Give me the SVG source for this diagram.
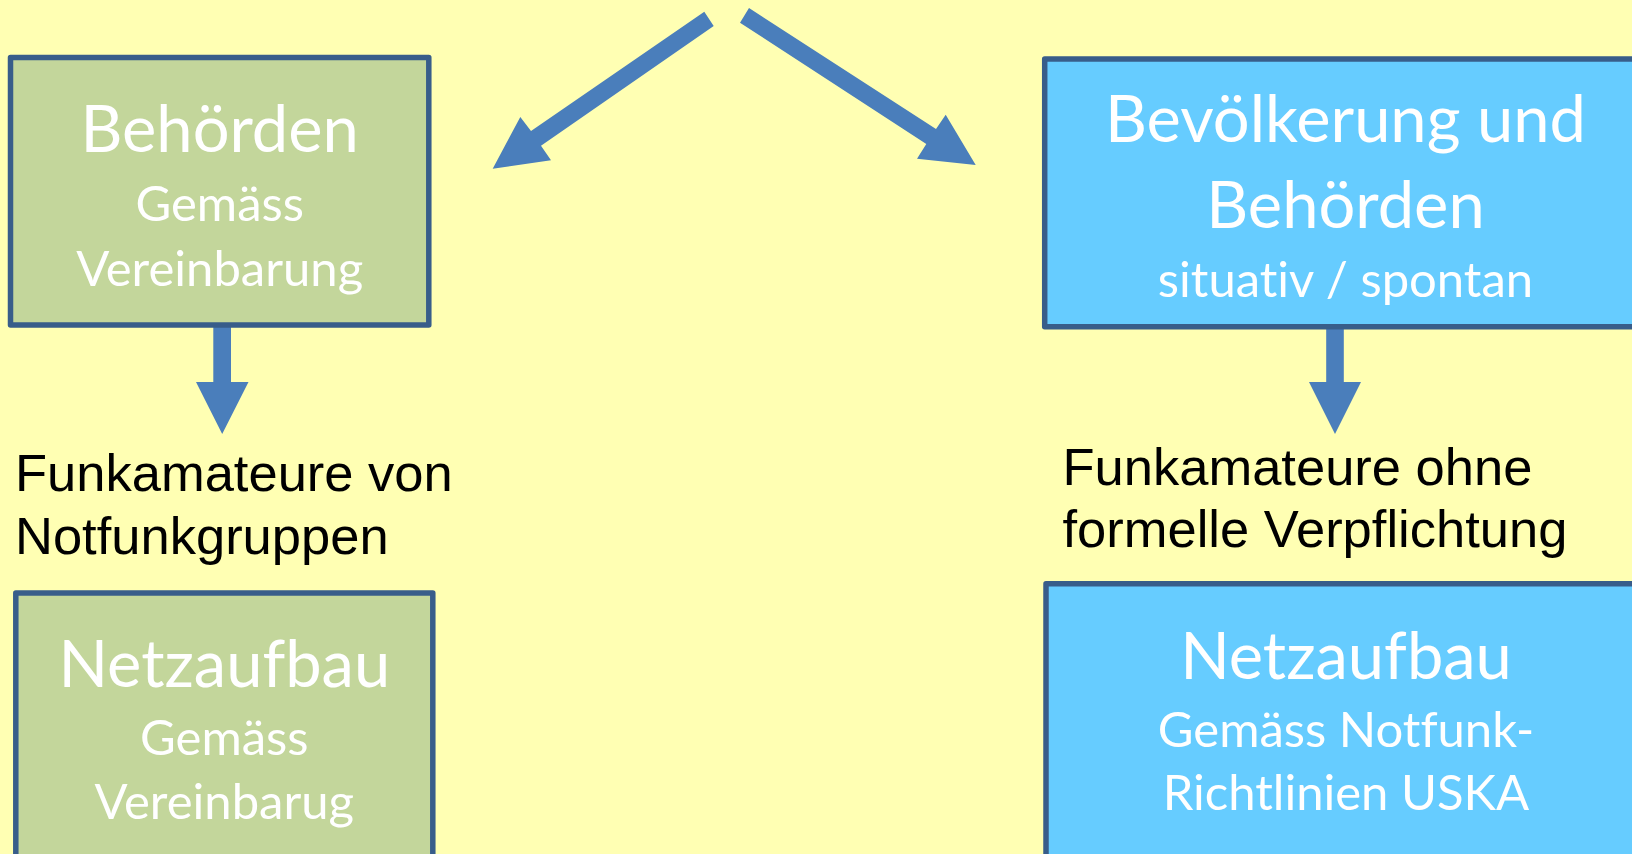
<svg xmlns="http://www.w3.org/2000/svg" width="1632" height="854" viewBox="0 0 1632 854">
<style>
.box{stroke:#385D8A;stroke-width:5.5;stroke-linejoin:round}
.green{fill:#C3D69B}
.blue{fill:#66CCFF}
.t{font-family:Lato,"Open Sans",sans-serif;fill:#FFFFFF;text-anchor:middle;font-variant-ligatures:none;font-feature-settings:"liga" 0,"clig" 0}
.big{font-size:65px}
.sub{font-size:49px}
.lbl{font-family:"Liberation Sans",Arial,sans-serif;font-size:52.5px;fill:#000000}
.arr{fill:#4A7EBB}
</style>
<rect x="0" y="0" width="1632" height="854" fill="#FFFFB3"/>
<g id="connectors">
<polygon class="arr" points="704.3,11.7 531,131 520.3,117 492.7,168.7 551,160.3 541,145.7 713.7,26"/>
<polygon class="arr" points="749,8 936,129 945.7,114.7 975.7,165 917,158.7 926.3,144 740,22.7"/>
<polygon class="arr" points="213.3,327 231,327 231,382 248.5,382 222.2,434 196,382 213.3,382"/>
<polygon class="arr" points="1326.2,329 1343.8,329 1343.8,382 1361,382 1335,434 1309,382 1326.2,382"/>
</g>
<g id="node-behoerden">
<rect class="box green" x="10.5" y="57.5" width="418.3" height="267.5"/>
<text class="t big" x="219.7" y="152">Behörden</text>
<text class="t sub" x="219.7" y="221">Gemäss</text>
<text class="t sub" x="219.7" y="285.5">Vereinbarung</text>
</g>
<g id="node-bevoelkerung">
<rect class="box blue" x="1044.7" y="58.9" width="620" height="267.9"/>
<text class="t big" x="1345.5" y="142">Bevölkerung und</text>
<text class="t big" x="1345.5" y="228">Behörden</text>
<text class="t sub" x="1345.5" y="297">situativ / spontan</text>
</g>
<g id="label-left">
<text class="lbl" x="15" y="491">Funkamateure von</text>
<text class="lbl" x="15" y="554">Notfunkgruppen</text>
</g>
<g id="label-right">
<text class="lbl" x="1062.5" y="484.5">Funkamateure ohne</text>
<text class="lbl" x="1062.5" y="547">formelle Verpflichtung</text>
</g>
<g id="node-netz-left">
<rect class="box green" x="15.8" y="593" width="417" height="300"/>
<text class="t big" x="224.3" y="687">Netzaufbau</text>
<text class="t sub" x="224.3" y="755">Gemäss</text>
<text class="t sub" x="224.3" y="818.5">Vereinbarug</text>
</g>
<g id="node-netz-right">
<rect class="box blue" x="1046" y="583.7" width="620" height="300"/>
<text class="t big" x="1346" y="679">Netzaufbau</text>
<text class="t sub" x="1346" y="747">Gemäss Notfunk-</text>
<text class="t sub" x="1346" y="809.5">Richtlinien USKA</text>
</g>
</svg>
